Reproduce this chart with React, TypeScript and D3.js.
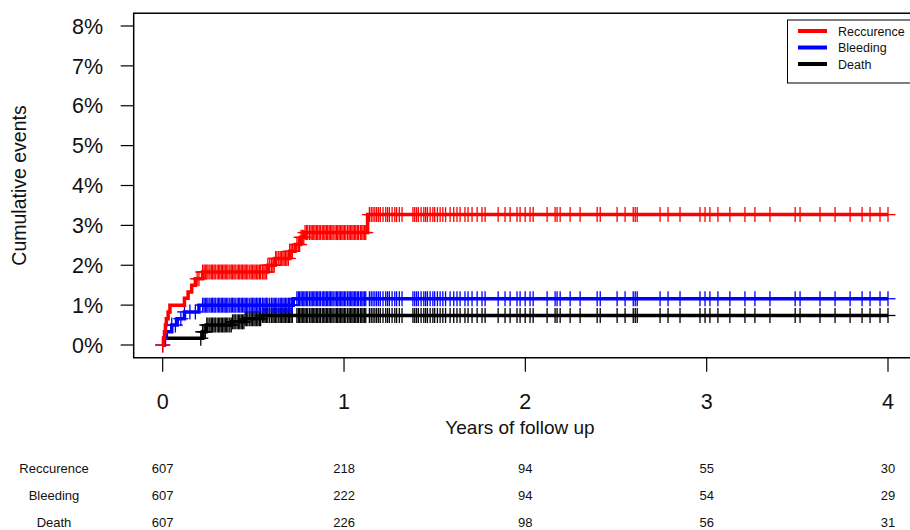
import React from 'react';
import * as d3 from 'd3';

// x axis: years of follow up, y axis: cumulative events (%)
const yearTicks = [0, 1, 2, 3, 4];
const pctTicks = [0, 1, 2, 3, 4, 5, 6, 7, 8];

const seriesNames = ['Reccurence', 'Bleeding', 'Death'];
const seriesColors = ['#ff0000', '#0000ff', '#000000'];

// step changes (time in years, cumulative %)
const reccurenceTimes = [0, 0.005, 0.01, 0.015, 0.02, 0.03, 0.04, 0.12, 0.14, 0.16, 0.18, 0.22, 0.58, 0.62, 0.7, 0.73, 0.76, 0.78, 1.13];
const reccurencePct = [0, 0.17, 0.33, 0.5, 0.66, 0.83, 1.0, 1.17, 1.33, 1.5, 1.66, 1.83, 2.0, 2.17, 2.35, 2.52, 2.7, 2.82, 3.27];

const bleedingTimes = [0, 0.01, 0.02, 0.05, 0.08, 0.12, 0.2, 0.72];
const bleedingPct = [0, 0.17, 0.33, 0.5, 0.66, 0.83, 1.0, 1.16];

const deathTimes = [0, 0.005, 0.22, 0.24, 0.38, 0.45, 0.55];
const deathPct = [0, 0.17, 0.33, 0.5, 0.58, 0.66, 0.74];

// censoring marks
const reccurenceEarlyCensor = [0, 0.19, 0.2];
const bleedingEarlyCensor = [0, 0.05, 0.07, 0.1, 0.12, 0.15, 0.18];
const deathEarlyCensor = [0.21];
const sharedCensor = [
  0.22, 0.228, 0.235, 0.243, 0.25, 0.26, 0.268, 0.275, 0.283, 0.29, 0.3, 0.308, 0.315, 0.323, 0.33,
  0.338, 0.345, 0.353, 0.36, 0.37, 0.378, 0.385, 0.393, 0.4, 0.41, 0.418, 0.425, 0.433, 0.44, 0.448,
  0.455, 0.463, 0.47, 0.48, 0.488, 0.495, 0.503, 0.51, 0.518, 0.525, 0.533, 0.54, 0.55, 0.558, 0.565,
  0.573, 0.58, 0.59, 0.6, 0.608, 0.615, 0.623, 0.63, 0.64, 0.648, 0.655, 0.663, 0.67, 0.678, 0.685,
  0.693, 0.7, 0.708, 0.715, 0.74, 0.748, 0.755, 0.763, 0.77, 0.778, 0.785, 0.793, 0.8, 0.81, 0.818,
  0.825, 0.833, 0.84, 0.848, 0.855, 0.863, 0.87, 0.88, 0.888, 0.895, 0.903, 0.91, 0.918, 0.925, 0.933,
  0.94, 0.95, 0.958, 0.965, 0.973, 0.98, 0.988, 0.995, 1.003, 1.01, 1.02, 1.028, 1.035, 1.043, 1.05,
  1.058, 1.065, 1.073, 1.08, 1.09, 1.098, 1.105, 1.113, 1.12,
  1.14, 1.15, 1.16, 1.17, 1.18, 1.19, 1.2, 1.215, 1.23, 1.24, 1.25, 1.265, 1.28, 1.29, 1.305, 1.32,
  1.38, 1.39, 1.4, 1.41, 1.425, 1.44, 1.45, 1.46, 1.475, 1.49, 1.5, 1.515, 1.53, 1.545, 1.56,
  1.585, 1.605, 1.623, 1.64, 1.667, 1.684, 1.706, 1.734, 1.761, 1.778, 1.85, 1.888, 1.916, 1.954,
  1.971, 1.999, 2.026, 2.043, 2.12, 2.164, 2.175, 2.192, 2.247, 2.302, 2.396, 2.413, 2.506, 2.55,
  2.595, 2.606, 2.617, 2.743, 2.787, 2.853, 2.963, 2.991, 3.018, 3.062, 3.128, 3.211, 3.266, 3.349,
  3.488, 3.515, 3.625, 3.708, 3.791, 3.857, 3.901, 3.956, 4.0,
];

// numbers at risk
const atRiskReccurence = [607, 218, 94, 55, 30];
const atRiskBleeding = [607, 222, 94, 54, 29];
const atRiskDeath = [607, 226, 98, 56, 31];

const series = [
  { name: seriesNames[0], color: seriesColors[0], times: reccurenceTimes, pct: reccurencePct, censor: reccurenceEarlyCensor.concat(sharedCensor), atRisk: atRiskReccurence },
  { name: seriesNames[1], color: seriesColors[1], times: bleedingTimes, pct: bleedingPct, censor: bleedingEarlyCensor.concat(sharedCensor), atRisk: atRiskBleeding },
  { name: seriesNames[2], color: seriesColors[2], times: deathTimes, pct: deathPct, censor: deathEarlyCensor.concat(sharedCensor), atRisk: atRiskDeath },
];

const W = 910;
const H = 530;
const font = 'Liberation Sans, Arial, Helvetica, sans-serif';

const x = d3.scaleLinear().domain([0, 4]).range([162.7, 888]);
const y = d3.scaleLinear().domain([0, 8]).range([345, 26]);

const App = () => {
  const boxL = x(-0.16);
  const boxR = x(4.16);
  const boxT = y(8.32);
  const boxB = y(-0.32);

  const line = d3
    .line<[number, number]>()
    .x((d) => x(d[0]))
    .y((d) => y(d[1]))
    .curve(d3.curveStepAfter);

  const levelAt = (s: typeof series[0], t: number) => {
    const i = d3.bisectRight(s.times, t) - 1;
    return s.pct[Math.max(0, i)];
  };

  const markH = 7.5;
  const markW = 7.5;

  return (
    <svg width={W} height={H} style={{ position: 'absolute', left: 0, top: 0, background: '#fff' }} fontFamily={font}>
      {/* curves, drawn back to front */}
      {series
        .slice()
        .reverse()
        .map((s) => {
          const pts: [number, number][] = s.times.map((t, i) => [t, s.pct[i]] as [number, number]);
          pts.push([4.0, s.pct[s.pct.length - 1]]);
          return (
            <g key={s.name}>
              <path d={line(pts) || ''} fill="none" stroke={s.color} strokeWidth={3.5} />
              {s.censor.map((t, i) => {
                const cx = x(t);
                const cy = y(levelAt(s, t));
                return (
                  <g key={i} stroke={s.color} strokeWidth={1.3}>
                    <line x1={cx} x2={cx} y1={cy - markH} y2={cy + markH} />
                    <line x1={cx - markW} x2={cx + markW} y1={cy} y2={cy} />
                  </g>
                );
              })}
            </g>
          );
        })}

      {/* plot box */}
      <rect x={boxL} y={boxT} width={boxR - boxL} height={boxB - boxT} fill="none" stroke="#000" strokeWidth={1.5} />

      {/* y axis */}
      {pctTicks.map((p) => (
        <g key={p}>
          <line x1={boxL - 13} x2={boxL} y1={y(p)} y2={y(p)} stroke="#000" strokeWidth={1.2} />
          <text x={103} y={y(p)} dy="0.36em" textAnchor="end" fontSize={21.5} fill="#111">
            {p}%
          </text>
        </g>
      ))}
      <text transform={`translate(26, ${(boxT + boxB) / 2}) rotate(-90)`} textAnchor="middle" fontSize={19.5} fill="#111">
        Cumulative events
      </text>

      {/* x axis */}
      {yearTicks.map((t) => (
        <g key={t}>
          <line x1={x(t)} x2={x(t)} y1={boxB} y2={boxB + 14} stroke="#000" strokeWidth={1.2} />
          <text x={x(t)} y={409} textAnchor="middle" fontSize={21.5} fill="#111">
            {t}
          </text>
        </g>
      ))}
      <text x={520} y={434} textAnchor="middle" fontSize={19} fill="#111">
        Years of follow up
      </text>

      {/* legend */}
      <rect x={787.5} y={20} width={140} height={63} fill="#fff" stroke="#000" strokeWidth={1} />
      {series.map((s, i) => (
        <g key={s.name}>
          <line x1={798} x2={827} y1={31 + i * 16.5} y2={31 + i * 16.5} stroke={s.color} strokeWidth={4} />
          <text x={838} y={31 + i * 16.5} dy="0.36em" fontSize={12.5} fill="#111">
            {s.name}
          </text>
        </g>
      ))}

      {/* numbers at risk */}
      {series.map((s, i) => (
        <g key={s.name} fontSize={13} fill="#111">
          <text x={54} y={472.5 + i * 27} textAnchor="middle">
            {s.name}
          </text>
          {s.atRisk.map((n, j) => (
            <text key={j} x={x(yearTicks[j])} y={472.5 + i * 27} textAnchor="middle">
              {n}
            </text>
          ))}
        </g>
      ))}
    </svg>
  );
};

export default App;
